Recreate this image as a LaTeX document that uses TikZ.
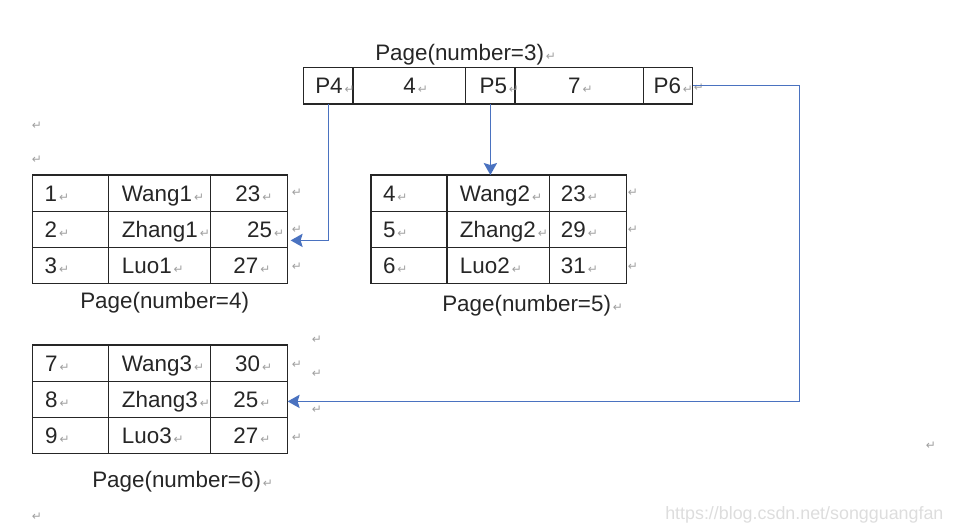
\documentclass[tikz,border=0pt]{standalone}
\usepackage{fontspec}
\setsansfont{Liberation Sans}
\newfontfamily\markfont{DejaVu Sans}
\usetikzlibrary{arrows.meta, positioning, calc}
\definecolor{linkcol}{HTML}{4A72C0}
\definecolor{gridcol}{HTML}{262626}
\definecolor{textcol}{HTML}{262626}
\definecolor{markcol}{HTML}{A0A0A0}
\definecolor{wmcol}{HTML}{DDDDDD}
\newcommand\retmark{\kern1.5pt{\markfont\fontsize{9}{10}\selectfont\textcolor{markcol}{↵}}}

\begin{document}
\begin{tikzpicture}[
    x=0.75pt, y=-0.75pt,
    cell/.style={
        draw=gridcol, line width=0.9pt, inner sep=0pt, outer sep=0pt,
        minimum height=27.2pt
    },
    topcell/.style={cell, minimum height=27.5pt},
    w1/.style={minimum width=57pt},
    w2/.style={minimum width=76.9pt},
    w3/.style={minimum width=57.6pt},
    txt/.style={
        inner sep=0pt, text height=12pt, text depth=0pt, text=textcol,
        font=\sffamily\fontsize{16.8}{20}\selectfont
    },
    retnode/.style={
        inner sep=0pt, text=markcol, font=\markfont\fontsize{9}{10}\selectfont
    },
    link/.style={
        -{Stealth[length=9pt, width=10pt, inset=1.5pt]}, draw=linkcol, line width=1pt
    },
]
\useasboundingbox (0,0) rectangle (959,525);

% ── Page 3 (top) ──
\node[txt, anchor=west] (cap3) at (375,52) {Page(number=3)\retmark};
\node[topcell, minimum width=37.3pt, anchor=north west] (p4) at (303.3,67.3) {};
\node[topcell, minimum width=84.5pt, right=0pt of p4] (k4) {};
\node[topcell, minimum width=37pt, right=0pt of k4] (p5) {};
\node[topcell, minimum width=96.2pt, right=0pt of p5] (k7) {};
\node[topcell, minimum width=37pt, right=0pt of k7] (p6) {};
\node[txt, right=8.8pt of p4.west] (tp4) {P4\retmark};
\node[txt, right=37.5pt of k4.west] (tk4) {4\retmark};
\node[txt, right=10.2pt of p5.west] (tp5) {P5\retmark};
\node[txt, right=39.7pt of k7.west] (tk7) {7\retmark};
\node[txt, right=7.5pt of p6.west] (tp6) {P6\retmark};

% ── Page 4 ──
\node[cell, w1, anchor=north west] (a11) at (32.3,175) {};
\node[cell, w2, right=0pt of a11] (a12) {};
\node[cell, w3, right=0pt of a12] (a13) {};
\node[cell, w1, below=0pt of a11] (a21) {};
\node[cell, w2, right=0pt of a21] (a22) {};
\node[cell, w3, right=0pt of a22] (a23) {};
\node[cell, w1, below=0pt of a21] (a31) {};
\node[cell, w2, right=0pt of a31] (a32) {};
\node[cell, w3, right=0pt of a32] (a33) {};
\node[txt, right=9pt of a11.west] (ta11) {1\retmark};
\node[txt, right=10pt of a12.west] (ta12) {Wang1\retmark};
\node[txt, right=18.2pt of a13.west] (ta13) {23\retmark};
\node[txt, right=9pt of a21.west] (ta21) {2\retmark};
\node[txt, right=10pt of a22.west] (ta22) {Zhang1\retmark};
\node[txt, right=27pt of a23.west] (ta23) {25\retmark};
\node[txt, right=9pt of a31.west] (ta31) {3\retmark};
\node[txt, right=10pt of a32.west] (ta32) {Luo1\retmark};
\node[txt, right=16.7pt of a33.west] (ta33) {27\retmark};
\node[txt, anchor=west] (cap4) at (80,300) {Page(number=4)};

% ── Page 5 ──
\node[cell, w1, anchor=north west] (b11) at (371,175) {};
\node[cell, w2, right=0pt of b11] (b12) {};
\node[cell, w3, right=0pt of b12] (b13) {};
\node[cell, w1, below=0pt of b11] (b21) {};
\node[cell, w2, right=0pt of b21] (b22) {};
\node[cell, w3, right=0pt of b22] (b23) {};
\node[cell, w1, below=0pt of b21] (b31) {};
\node[cell, w2, right=0pt of b31] (b32) {};
\node[cell, w3, right=0pt of b32] (b33) {};
\node[txt, right=8.8pt of b11.west] (tb11) {4\retmark};
\node[txt, right=9.5pt of b12.west] (tb12) {Wang2\retmark};
\node[txt, right=8.3pt of b13.west] (tb13) {23\retmark};
\node[txt, right=8.8pt of b21.west] (tb21) {5\retmark};
\node[txt, right=9.5pt of b22.west] (tb22) {Zhang2\retmark};
\node[txt, right=8.3pt of b23.west] (tb23) {29\retmark};
\node[txt, right=8.8pt of b31.west] (tb31) {6\retmark};
\node[txt, right=9.5pt of b32.west] (tb32) {Luo2\retmark};
\node[txt, right=8.3pt of b33.west] (tb33) {31\retmark};
\node[txt, anchor=west] (cap5) at (442,303) {Page(number=5)\retmark};

% ── Page 6 ──
\node[cell, w1, anchor=north west] (c11) at (32.3,345) {};
\node[cell, w2, right=0pt of c11] (c12) {};
\node[cell, w3, right=0pt of c12] (c13) {};
\node[cell, w1, below=0pt of c11] (c21) {};
\node[cell, w2, right=0pt of c21] (c22) {};
\node[cell, w3, right=0pt of c22] (c23) {};
\node[cell, w1, below=0pt of c21] (c31) {};
\node[cell, w2, right=0pt of c31] (c32) {};
\node[cell, w3, right=0pt of c32] (c33) {};
\node[txt, right=9.5pt of c11.west] (tc11) {7\retmark};
\node[txt, right=10pt of c12.west] (tc12) {Wang3\retmark};
\node[txt, right=18pt of c13.west] (tc13) {30\retmark};
\node[txt, right=9.5pt of c21.west] (tc21) {8\retmark};
\node[txt, right=10pt of c22.west] (tc22) {Zhang3\retmark};
\node[txt, right=16.7pt of c23.west] (tc23) {25\retmark};
\node[txt, right=9.5pt of c31.west] (tc31) {9\retmark};
\node[txt, right=10pt of c32.west] (tc32) {Luo3\retmark};
\node[txt, right=16.7pt of c33.west] (tc33) {27\retmark};
\node[txt, anchor=west] (cap6) at (92,479) {Page(number=6)\retmark};

% ── Loose paragraph marks ──
\node[retnode] (m1) at (37,126) {↵};
\node[retnode] (m2) at (37,160) {↵};
\node[retnode] (m3) at (37,517) {↵};
\node[retnode] (m4) at (699,88) {↵};
\node[retnode] (m5) at (297,193) {↵};
\node[retnode] (m6) at (297,230) {↵};
\node[retnode] (m7) at (297,267) {↵};
\node[retnode] (m8) at (633,193) {↵};
\node[retnode] (m9) at (633,230) {↵};
\node[retnode] (m10) at (633,267) {↵};
\node[retnode] (m11) at (297,365) {↵};
\node[retnode] (m12) at (297,438) {↵};
\node[retnode] (m13) at (317,340) {↵};
\node[retnode] (m14) at (317,374) {↵};
\node[retnode] (m15) at (317,410) {↵};
\node[retnode] (m16) at (931,446) {↵};

% ── Watermark ──
\node[inner sep=0pt, anchor=west, text=wmcol, font=\sffamily\fontsize{13.4}{14}\selectfont]
    (wm) at (665,515) {https://blog.csdn.net/songguangfan};

% ── Pointers ──
\coordinate (a23in) at ($(a23.east)+(3,11)$);
\draw[link] (p4.south) |- (a23in);

\draw[link] (p5.south) -- (p5.south |- b12.north);

\coordinate (p6R) at ($(p6.east)+(107,0)$);
\coordinate (c23in) at ($(c23.east)+(0,2)$);
\draw[link] (p6.east) -- (p6R) |- (c23in);

\end{tikzpicture}
\end{document}
